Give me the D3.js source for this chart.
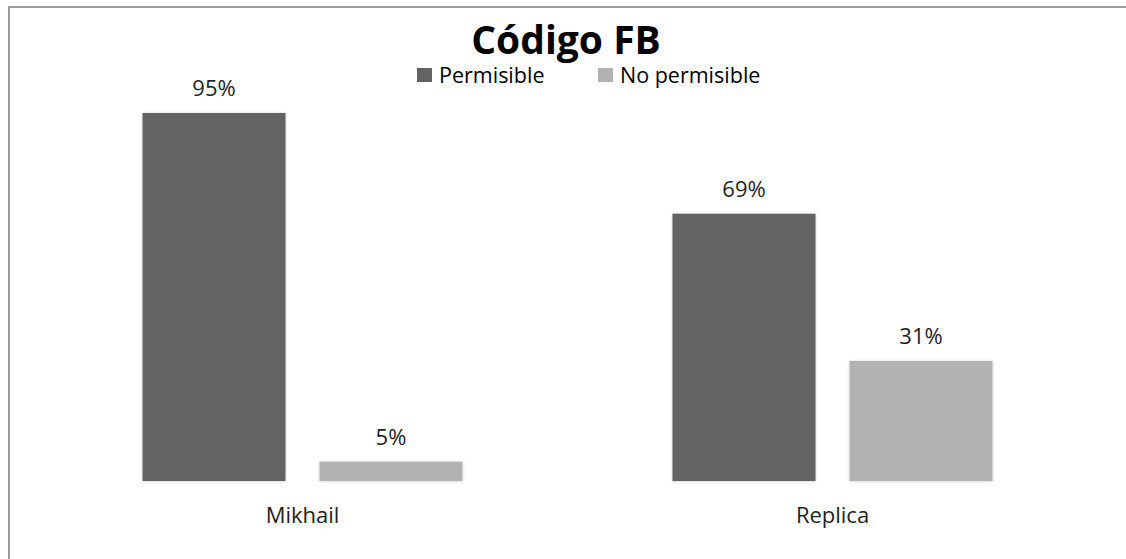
<!DOCTYPE html>
<html>
<head>
<meta charset="utf-8">
<script src="https://cdn.jsdelivr.net/npm/d3@7"></script>
<style>
  html, body { margin: 0; padding: 0; background: #fff; overflow: hidden; width: 1126px; height: 559px; }
  svg { display: block; font-family: "Open Sans", "Noto Sans", sans-serif; }
</style>
</head>
<body>
<svg id="chart" width="1126" height="559"></svg>
<script>
// Chart data
const categories = ["Mikhail", "Replica"];
const seriesNames = ["Permisible", "No permisible"];
const permisible = [95, 69];
const noPermisible = [5, 31];
const seriesColors = ["#636363", "#b2b2b2"];
const title = "Código FB";

const seriesValues = [permisible, noPermisible];
const rows = categories.map((c, i) => ({
  category: c,
  values: seriesNames.map((s, j) => ({ series: s, value: seriesValues[j][i], color: seriesColors[j] }))
}));

const svg = d3.select("#chart");
const W = 1126, H = 559;

// White background
svg.append("rect").attr("width", W).attr("height", H).attr("fill", "#fff");

// Outer frame: only its top and left edges fall inside the canvas
svg.append("path")
  .attr("d", `M9,${H} V7 H${W}`)
  .attr("fill", "none")
  .attr("stroke", "#9a9a9a")
  .attr("stroke-width", 2);

// Soft shadow under each bar
const defs = svg.append("defs");
const f = defs.append("filter").attr("id", "barShadow")
  .attr("x", "-10%").attr("y", "-10%").attr("width", "120%").attr("height", "120%");
f.append("feDropShadow")
  .attr("dx", 0).attr("dy", 0.5)
  .attr("stdDeviation", 1.6)
  .attr("flood-color", "#000")
  .attr("flood-opacity", 0.18);

// Scales
const x0 = d3.scaleBand().domain(categories).range([37.5, 1097.5]).padding(0);
const x1 = d3.scaleBand().domain(seriesNames)
  .range([105, 425]).paddingInner(0.192).paddingOuter(0);
const y = d3.scaleLinear().domain([0, 100]).range([481, 93.6]);

// Bars
const groups = svg.append("g").selectAll("g")
  .data(rows).join("g")
  .attr("transform", d => `translate(${x0(d.category)},0)`);

groups.selectAll("rect")
  .data(d => d.values).join("rect")
  .attr("x", d => x1(d.series))
  .attr("y", d => y(d.value))
  .attr("width", x1.bandwidth())
  .attr("height", d => y(0) - y(d.value))
  .attr("fill", d => d.color)
  .attr("filter", "url(#barShadow)");

// Value labels
groups.selectAll("text.val")
  .data(d => d.values).join("text")
  .attr("class", "val")
  .attr("x", d => x1(d.series) + x1.bandwidth() / 2)
  .attr("y", d => y(d.value) - 17)
  .attr("text-anchor", "middle")
  .attr("font-size", 22)
  .attr("fill", "#1e1e1e")
  .text(d => d.value + "%");

// Category axis labels
const xAxis = d3.axisBottom(x0).tickSize(0).tickPadding(0);
const axisG = svg.append("g").attr("transform", "translate(0,481)").call(xAxis);
axisG.select(".domain").remove();
axisG.selectAll("text")
  .attr("y", 42)
  .attr("dy", 0)
  .attr("font-size", 22)
  .attr("font-family", "\"Open Sans\", \"Noto Sans\", sans-serif")
  .attr("fill", "#1e1e1e");

// Title
svg.append("text")
  .attr("x", 566).attr("y", 54)
  .attr("text-anchor", "middle")
  .attr("font-size", 39)
  .attr("font-weight", "bold")
  .attr("fill", "#000")
  .text(title);

// Legend
const legendX = [417, 598];
const legend = svg.append("g").selectAll("g")
  .data(seriesNames).join("g")
  .attr("transform", (d, i) => `translate(${legendX[i]},68)`);
legend.append("rect")
  .attr("width", 15).attr("height", 14)
  .attr("fill", (d, i) => seriesColors[i]);
legend.append("text")
  .attr("x", 22).attr("y", 14.5)
  .attr("font-size", 21.5)
  .attr("fill", "#000")
  .text(d => d);
</script>
</body>
</html>
